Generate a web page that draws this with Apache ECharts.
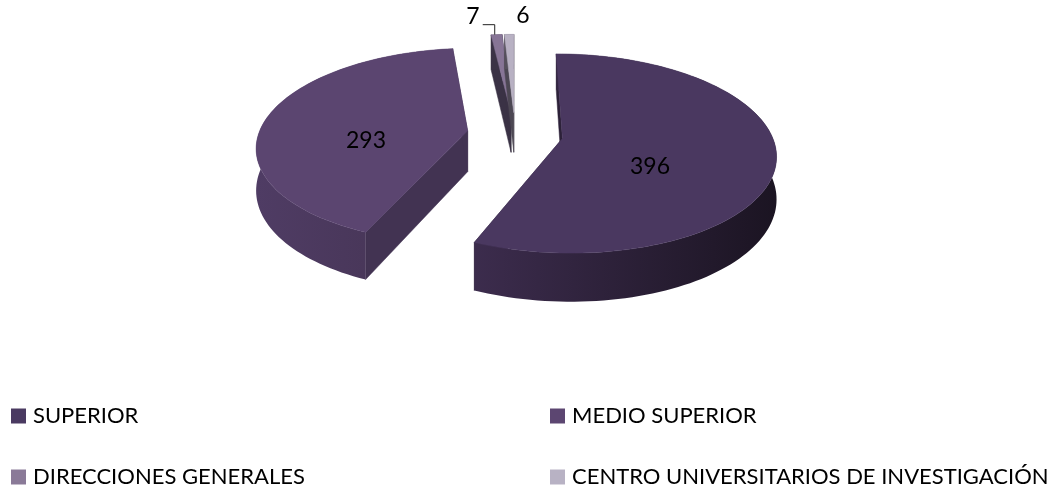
<!DOCTYPE html>
<html>
<head>
<meta charset="utf-8">
<style>
  html, body { margin: 0; padding: 0; background: #fff; }
  #chart { width: 1064px; height: 489px; }
</style>
<script src="https://cdn.jsdelivr.net/npm/echarts@6/dist/echarts.min.js"></script>
</head>
<body>
<div id="chart"></div>
<script>
const categories = ['SUPERIOR', 'MEDIO SUPERIOR', 'DIRECCIONES GENERALES', 'CENTRO UNIVERSITARIOS DE INVESTIGACIÓN']
const values = [396, 293, 7, 6]

const topColors = ['#4a3860', '#5b4570', '#877596', '#b8b1c3']
const swatchColors = ['#4a3a61', '#5c4671', '#8a7a98', '#b8b2c4']
const sideColors = [
  ['#3c2c4d', '#1b1422'],
  ['#4f3c64', '#443352'],
  ['#3b3346', '#3b3346'],
  ['#55505c', '#55505c'],
]
const flatColors = ['#2c2138', '#423352', '#3a3245', '#4c4753']
const labelAt = [[650, 167], [366, 141], [473, 17], [523, 16]]
const legendAt = [[11, 405], [550, 405], [11, 466], [550, 466]]

// projection of the tilted pie
const CX = 515
const CY = 134
const RX = 209
const RY = 96
const PERSP = 0.15
const DEPTH = 41
const EXPLODE = 0.23

const total = values.reduce((a, b) => a + b, 0)
const proj = (u, v, z) => {
  const s = 1 / (1 - PERSP * v)
  return [CX + RX * u * s, CY + RY * v * s + DEPTH * z * s]
}

const sliceShapes = (i) => {
  const before = values.slice(0, i).reduce((a, b) => a + b, 0)
  const a0 = (before / total) * Math.PI * 2
  const a1 = ((before + values[i]) / total) * Math.PI * 2
  const mid = (a0 + a1) / 2
  const ou = EXPLODE * Math.sin(mid)
  const ov = -EXPLODE * Math.cos(mid)
  const steps = Math.max(2, Math.ceil((a1 - a0) / 0.03))
  const topRim = []
  const lowRim = []
  for (let k = 0; k <= steps; k++) {
    const a = a0 + ((a1 - a0) * k) / steps
    topRim.push(proj(ou + Math.sin(a), ov - Math.cos(a), 0))
    lowRim.push(proj(ou + Math.sin(a), ov - Math.cos(a), 1))
  }
  const apexTop = proj(ou, ov, 0)
  const apexLow = proj(ou, ov, 1)
  return { topRim, lowRim, apexTop, apexLow }
}

const gradient = (pts, from, to) => {
  const xs = pts.map((p) => p[0])
  return new echarts.graphic.LinearGradient(
    Math.min(...xs), 0, Math.max(...xs), 0,
    [{ offset: 0, color: from }, { offset: 1, color: to }],
    true
  )
}

const renderSlice = (i) => () => {
  const { topRim, lowRim, apexTop, apexLow } = sliceShapes(i)
  const last = topRim.length - 1
  const poly = (points, fill, stroke) => ({
    type: 'polygon',
    shape: { points },
    style: { fill, stroke: stroke || null, lineWidth: 0.5 },
  })
  const outer = topRim.concat(lowRim.slice().reverse())
  const children = [
    poly([apexTop, topRim[0], lowRim[0], apexLow], flatColors[i], flatColors[i]),
    poly([apexTop, topRim[last], lowRim[last], apexLow], flatColors[i], flatColors[i]),
    poly(outer, gradient(outer, sideColors[i][0], sideColors[i][1])),
    poly([apexTop].concat(topRim), topColors[i], topColors[i]),
  ]
  children.push({
    type: 'text',
    style: {
      text: String(values[i]),
      x: labelAt[i][0],
      y: labelAt[i][1],
      align: 'center',
      verticalAlign: 'middle',
      fill: '#000',
      font: '23px Lato',
    },
  })
  // leader line of the small slice
  if (i === 2) {
    const tip = topRim[Math.floor(last / 2)]
    children.push({
      type: 'polyline',
      shape: { points: [tip, [tip[0], tip[1] - 10], [tip[0] - 12, tip[1] - 10]] },
      style: { stroke: '#222', lineWidth: 1, fill: null },
    })
  }
  return { type: 'group', children }
}

const myChart = echarts.init(document.getElementById('chart'), null, { renderer: 'canvas' })
const option = {
  backgroundColor: '#fff',
  animation: false,
  legend: categories.map((name, i) => ({
    data: [name],
    left: legendAt[i][0],
    top: legendAt[i][1],
    padding: 0,
    icon: 'rect',
    itemWidth: 15,
    itemHeight: 15,
    selectedMode: false,
    textStyle: { fontFamily: 'Lato', fontSize: 22, color: '#000', padding: [0, 0, 0, 2] },
  })),
  series: categories.map((name, i) => ({
    name,
    type: 'custom',
    coordinateSystem: 'none',
    silent: true,
    itemStyle: { color: swatchColors[i] },
    data: [values[i]],
    renderItem: renderSlice(i),
  })),
}
myChart.setOption(option)
</script>
</body>
</html>
